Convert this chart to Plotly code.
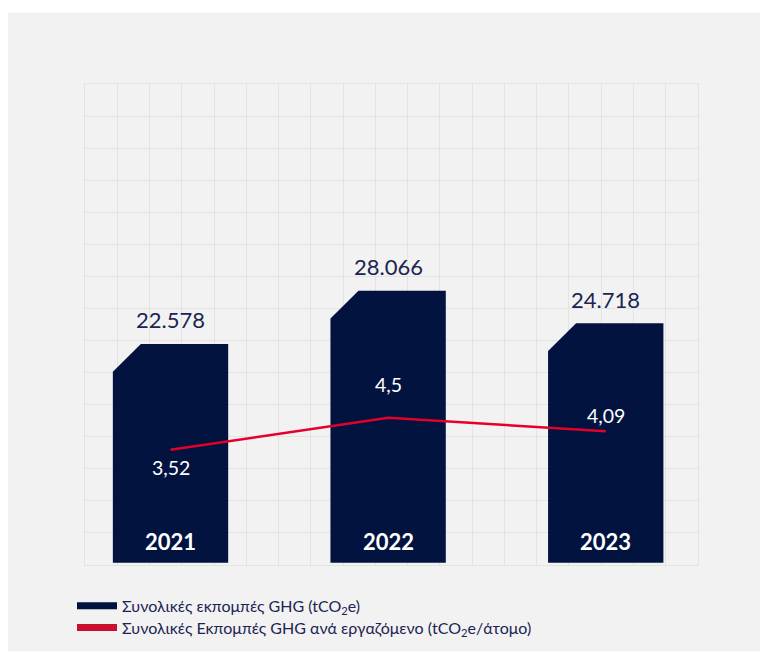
import plotly.graph_objects as go

# ---- data ----
years = ["2021", "2022", "2023"]
total_ghg = [22578, 28066, 24718]          # tCO2e
ghg_per_employee = [3.52, 4.5, 4.09]       # tCO2e / employee
legend_names = ["Συνολικές εκπομπές GHG (tCO<sub>2</sub>e)",
                "Συνολικές Εκπομπές GHG ανά εργαζόμενο (tCO<sub>2</sub>e/άτομο)"]

# ---- style ----
W, H = 761, 657
M_L, M_R, M_T, M_B = 85, 63, 84, 89
PLOT_W, PLOT_H = W - M_L - M_R, H - M_T - M_B
NAVY = "#031340"
RED_LINE = "#e4002b"
RED_SW = "#c8102e"
BG = "#f2f2f2"
GRID = "#e3e3e3"
TEXT = "#1b2452"
FONT = "Lato, 'Noto Sans', sans-serif"
X_RANGE = [-0.393, 2.424]
Y_RANGE = [-236, 49395]
Y2_RANGE = [0, 14.7]
BAR_W = 0.53
CHAMFER_PX = 28

cx = CHAMFER_PX * (X_RANGE[1] - X_RANGE[0]) / PLOT_W
cy = CHAMFER_PX * (Y_RANGE[1] - Y_RANGE[0]) / PLOT_H

bx, by = [], []
for i, v in enumerate(total_ghg):
    l, r = i - BAR_W / 2, i + BAR_W / 2
    bx += [l, l, l + cx, r, r, l, None]
    by += [0, v - cy, v, v, 0, 0, None]

fig = go.Figure()
fig.add_trace(go.Scatter(x=bx, y=by, mode="lines", fill="toself", fillcolor=NAVY,
                         line=dict(width=0, color=NAVY), hoverinfo="skip", showlegend=False))
idx = list(range(len(years)))
fig.add_trace(go.Scatter(x=idx, y=ghg_per_employee, mode="lines", yaxis="y2",
                         line=dict(color=RED_LINE, width=2.5), showlegend=False,
                         customdata=years, hovertemplate="%{customdata}: %{y}<extra></extra>"))
# legend entries
fig.add_trace(go.Scatter(x=[None], y=[None], mode="lines", name=legend_names[0],
                         line=dict(color=NAVY, width=7), legend="legend"))
fig.add_trace(go.Scatter(x=[None], y=[None], mode="lines", name=legend_names[1],
                         line=dict(color=RED_SW, width=7), legend="legend2"))

def gr(v):
    return f"{v:,}".replace(",", ".")

def dec(v):
    return f"{v:g}".replace(".", ",")

ann = []
for i, v in enumerate(total_ghg):
    ann.append(dict(x=i, y=v, xref="x", yref="y", text=gr(v), showarrow=False,
                    yanchor="middle", yshift=24, font=dict(size=22, color=TEXT, family=FONT)))
    ann.append(dict(x=i, y=0, xref="x", yref="y", text=f"<b>{years[i]}</b>", showarrow=False,
                    yanchor="middle", yshift=21, font=dict(size=22, color="white", family=FONT)))
line_label_shift = [-18, 33, 16]
for i, v in enumerate(ghg_per_employee):
    ann.append(dict(x=i, y=v, xref="x", yref="y2", text=dec(v), showarrow=False,
                    yanchor="middle", yshift=line_label_shift[i],
                    font=dict(size=19.5, color="white", family=FONT)))

def legend_at(top_px):
    return dict(orientation="v", x=(72 - M_L) / PLOT_W, xanchor="left",
                y=-(top_px - (H - M_B)) / PLOT_H, yanchor="top",
                itemwidth=40, font=dict(size=16, color=TEXT, family=FONT),
                bgcolor="rgba(0,0,0,0)")

fig.update_layout(
    width=W, height=H,
    margin=dict(l=M_L, r=M_R, t=M_T, b=M_B),
    paper_bgcolor="white", plot_bgcolor=BG,
    font=dict(family=FONT, color=TEXT),
    xaxis=dict(range=X_RANGE, tick0=X_RANGE[0], dtick=(X_RANGE[1] - X_RANGE[0]) / 19,
               showgrid=True, gridcolor=GRID, gridwidth=1, zeroline=False,
               showticklabels=False, ticks="", showline=True, mirror=True,
               linecolor=GRID, linewidth=1, fixedrange=True),
    yaxis=dict(range=Y_RANGE, tick0=Y_RANGE[0], dtick=(Y_RANGE[1] - Y_RANGE[0]) / 15,
               showgrid=True, gridcolor=GRID, gridwidth=1, zeroline=False,
               showticklabels=False, ticks="", showline=True, mirror=True,
               linecolor=GRID, linewidth=1, fixedrange=True),
    yaxis2=dict(range=Y2_RANGE, overlaying="y", side="right", showgrid=False,
                zeroline=False, showticklabels=False, ticks="", fixedrange=True),
    showlegend=True,
    legend=legend_at(592),
    legend2=legend_at(614),
    annotations=ann,
    shapes=[dict(type="rect", xref="paper", yref="paper", layer="below",
                 x0=(8 - M_L) / PLOT_W, x1=(760 - M_L) / PLOT_W,
                 y0=-(655 - (H - M_B)) / PLOT_H, y1=1 + (M_T - 12) / PLOT_H,
                 fillcolor=BG, line=dict(width=0))],
)

fig.write_html("out.html",
               config={"displayModeBar": False},
               post_script="document.body.style.margin='0px';"
                           "document.documentElement.style.overflow='hidden';")
